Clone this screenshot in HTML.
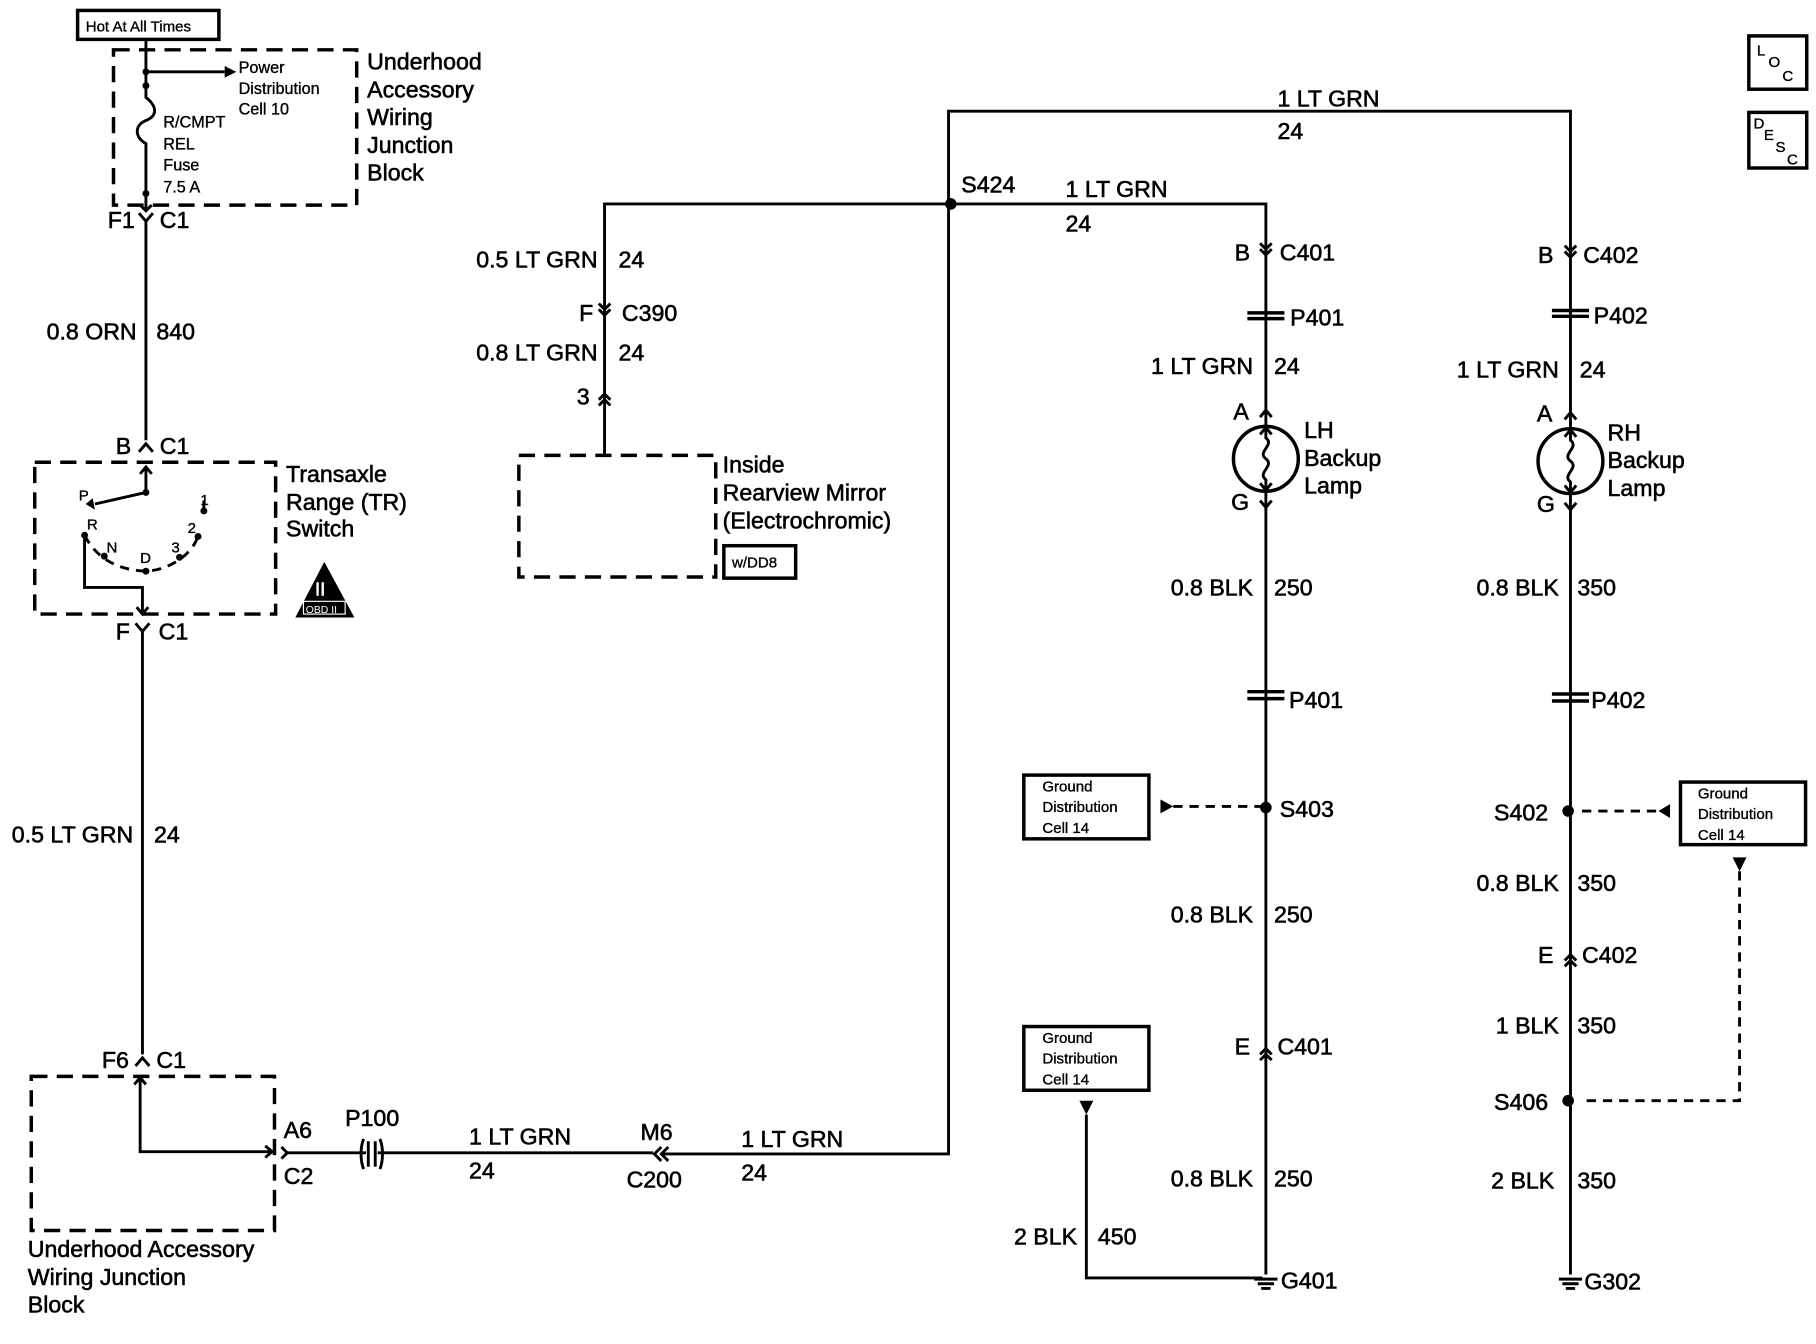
<!DOCTYPE html>
<html><head><meta charset="utf-8"><style>
html,body{margin:0;padding:0;background:#fff}
svg{display:block}
text{font-family:"Liberation Sans",Arial,sans-serif;fill:#000;stroke:#000;stroke-width:0.5px}
.l{font-size:20px}
.s{font-size:14px;stroke-width:0.3px}
.t{font-size:13px;stroke-width:0.3px}
</style></head><body>
<svg width="1816" height="1344" viewBox="0 0 1568 1160" preserveAspectRatio="none" xmlns="http://www.w3.org/2000/svg">
<rect width="1568" height="1160" fill="#fff"/>
<g fill="none" stroke="#000" stroke-width="2.5">
<rect x="67" y="9" width="122" height="25" stroke-width="3"/>
<rect x="98" y="43" width="210" height="134" stroke-width="3" stroke-dasharray="14,8"/>
<path d="M126 34 V84 C136 92 136 100 126 104 C116 108 116 118 126 124 V182"/>
<path d="M126 62 H194"/>
<path d="M121 177 L126 182 L131 177"/>
<path d="M120 184 L126 191 L132 184 M126 191 V380"/>
<path d="M120 390 L126 383 L132 390"/>
<rect x="30" y="399" width="208" height="131" stroke-width="3" stroke-dasharray="14,8"/>
<path d="M126 425 V404 M121 409 L126 403 L131 409"/>
<path d="M126 425 L82 435"/>
<path d="M176 432 V441"/>
<path d="M73 462 C85 485 105 492 126 493 C145 492 165 480 171 463" stroke-dasharray="8,6"/>
<path d="M73 462 V507 H123 V529 M118 524 L123 530 L128 524"/>
<path d="M117 538 L123 545 L129 538 M123 545 V910"/>
<path d="M117 920 L123 913 L129 920"/>
<rect x="27" y="929" width="210" height="133" stroke-width="3" stroke-dasharray="14,8"/>
<path d="M121 931 V994 H235 M229 989 L235 994 L229 999 M116 936 L121 930 L126 936"/>
<path d="M243 990 L248 995 L243 1000"/>
<path d="M248 995 H316 M326 995 H564 M572 996 H819 V96 H1356 V1100"/>
<path d="M314 983 C311 990 311 1002 314 1009 M328 983 C331 990 331 1002 328 1009 M318 985 V1007 M324 985 V1007"/>
<path d="M571 990 L565 996 L571 1002 M577 990 L571 996 L577 1002"/>
<path d="M522 392 V176 H1093 V1100"/>
<path d="M517 262 L522 267 L527 262 M517 267 L522 272 L527 267"/>
<path d="M517 345 L522 340 L527 345 M517 350 L522 345 L527 350"/>
<rect x="448" y="393" width="170" height="105" stroke-width="3" stroke-dasharray="14,8"/>
<rect x="625" y="471" width="62" height="28" stroke-width="3"/>
<path d="M1088 210 L1093 215 L1098 210 M1088 215 L1093 220 L1098 215"/>
<path d="M1077 270 H1109 M1077 275 H1109" stroke-width="3"/>
<path d="M1088 360 L1093 354 L1098 360"/>
<circle cx="1093" cy="396" r="28" fill="#fff" stroke-width="3"/>
<path d="M1093 370 V378 C1101 384 1085 390 1093 396 C1101 402 1085 408 1093 414 V422 M1088 375 L1093 369 L1098 375 M1088 417 L1093 423 L1098 417"/>
<path d="M1088 432 L1093 438 L1098 432"/>
<path d="M1077 597 H1109 M1077 603 H1109" stroke-width="3"/>
<path d="M1088 910 L1093 905 L1098 910 M1088 915 L1093 910 L1098 915"/>
<path d="M1013 696 H1090" stroke-dasharray="8,6"/>
<rect x="884" y="669" width="108" height="55" stroke-width="3"/>
<rect x="884" y="886" width="108" height="55" stroke-width="3"/>
<path d="M938 962 V1103 H1090"/>
<path d="M1083 1104 H1103 M1086 1108 H1100 M1089 1112 H1097"/>
<path d="M1351 212 L1356 217 L1361 212 M1351 217 L1356 222 L1361 217"/>
<path d="M1340 268 H1372 M1340 273 H1372" stroke-width="3"/>
<path d="M1351 362 L1356 356 L1361 362"/>
<circle cx="1356" cy="398" r="28" fill="#fff" stroke-width="3"/>
<path d="M1356 372 V380 C1364 386 1348 392 1356 398 C1364 404 1348 410 1356 416 V424 M1351 377 L1356 371 L1361 377 M1351 419 L1356 425 L1361 419"/>
<path d="M1351 434 L1356 440 L1361 434"/>
<path d="M1340 599 H1372 M1340 605 H1372" stroke-width="3"/>
<path d="M1351 829 L1356 824 L1361 829 M1351 834 L1356 829 L1361 834"/>
<path d="M1366 700 H1432" stroke-dasharray="8,6"/>
<rect x="1451" y="675" width="108" height="54" stroke-width="3"/>
<path d="M1502 752 V950 H1366" stroke-dasharray="8,6"/>
<path d="M1346 1104 H1366 M1349 1108 H1363 M1352 1112 H1360"/>
<rect x="1510" y="31" width="50" height="46" stroke-width="3"/>
<rect x="1510" y="97" width="50" height="48" stroke-width="3"/>
</g>
<g fill="#000">
<path d="M194 57 L204 62 L194 67 Z"/>
<circle cx="126" cy="62" r="3"/><circle cx="126" cy="74" r="3"/><circle cx="126" cy="167" r="3"/>
<circle cx="126" cy="425" r="3"/><path d="M80 430 L74 435 L82 440 Z"/>
<circle cx="73" cy="462" r="3"/><circle cx="90" cy="480" r="3"/><circle cx="126" cy="493" r="3"/><circle cx="155" cy="481" r="3"/><circle cx="171" cy="463" r="3"/><circle cx="176" cy="441" r="3"/>
<path d="M280 485 L255 533 L306 533 Z"/>
<circle cx="821" cy="176" r="5"/>
<circle cx="1093" cy="697" r="5"/>
<path d="M1002 690 L1013 696 L1002 702 Z"/>
<path d="M932 950 L944 950 L938 962 Z"/>
<circle cx="1354" cy="700" r="5"/>
<circle cx="1354" cy="950" r="5"/>
<path d="M1442 694 L1432 700 L1442 706 Z"/>
<path d="M1496 740 L1508 740 L1502 752 Z"/>
</g>
<text x="272" y="514" font-size="16" style="fill:#fff;stroke:#fff">II</text>
<rect x="262" y="519" width="36" height="11" fill="#000" stroke="#fff" stroke-width="1"/>
<text x="264" y="529" font-size="9" style="fill:#fff;stroke:none">OBD II</text>

<text class="t" x="74" y="27">Hot At All Times</text>
<text class="s" x="206" y="63">Power</text>
<text class="s" x="206" y="81">Distribution</text>
<text class="s" x="206" y="99">Cell 10</text>
<text class="s" x="141" y="110">R/CMPT</text>
<text class="s" x="141" y="129">REL</text>
<text class="s" x="141" y="147">Fuse</text>
<text class="s" x="141" y="166">7.5 A</text>
<text class="l" x="317" y="60">Underhood</text>
<text class="l" x="317" y="84">Accessory</text>
<text class="l" x="317" y="108">Wiring</text>
<text class="l" x="317" y="132">Junction</text>
<text class="l" x="317" y="156">Block</text>
<text class="l" x="93" y="197">F1</text><text class="l" x="138" y="197">C1</text>
<text class="l" x="118" y="293" text-anchor="end">0.8 ORN</text><text class="l" x="135" y="293">840</text>
<text class="l" x="100" y="392">B</text><text class="l" x="138" y="392">C1</text>
<text class="l" x="247" y="416">Transaxle</text>
<text class="l" x="247" y="440">Range (TR)</text>
<text class="l" x="247" y="463">Switch</text>
<text class="t" x="68" y="432">P</text><text class="t" x="173" y="436">1</text>
<text class="t" x="75" y="457">R</text><text class="t" x="92" y="477">N</text><text class="t" x="121" y="486">D</text><text class="t" x="148" y="477">3</text><text class="t" x="162" y="460">2</text>
<text class="l" x="100" y="552">F</text><text class="l" x="137" y="552">C1</text>
<text class="l" x="115" y="727" text-anchor="end">0.5 LT GRN</text><text class="l" x="133" y="727">24</text>
<text class="l" x="88" y="922">F6</text><text class="l" x="135" y="922">C1</text>
<text class="l" x="245" y="982">A6</text><text class="l" x="245" y="1022">C2</text>
<text class="l" x="24" y="1085">Underhood Accessory</text>
<text class="l" x="24" y="1109">Wiring Junction</text>
<text class="l" x="24" y="1133">Block</text>
<text class="l" x="298" y="972">P100</text>
<text class="l" x="405" y="988">1 LT GRN</text><text class="l" x="405" y="1017">24</text>
<text class="l" x="553" y="984">M6</text><text class="l" x="541" y="1025">C200</text>
<text class="l" x="640" y="990">1 LT GRN</text><text class="l" x="640" y="1019">24</text>
<text class="l" x="1103" y="92">1 LT GRN</text><text class="l" x="1103" y="120">24</text>
<text class="l" x="830" y="166">S424</text>
<text class="l" x="920" y="170">1 LT GRN</text><text class="l" x="920" y="200">24</text>
<text class="l" x="516" y="231" text-anchor="end">0.5 LT GRN</text><text class="l" x="534" y="231">24</text>
<text class="l" x="500" y="277">F</text><text class="l" x="537" y="277">C390</text>
<text class="l" x="516" y="311" text-anchor="end">0.8 LT GRN</text><text class="l" x="534" y="311">24</text>
<text class="l" x="498" y="349">3</text>
<text class="l" x="624" y="408">Inside</text>
<text class="l" x="624" y="432">Rearview Mirror</text>
<text class="l" x="624" y="456">(Electrochromic)</text>
<text class="t" x="632" y="490">w/DD8</text>
<text class="l" x="1066" y="225">B</text><text class="l" x="1105" y="225">C401</text>
<text class="l" x="1114" y="281">P401</text>
<text class="l" x="1082" y="323" text-anchor="end">1 LT GRN</text><text class="l" x="1100" y="323">24</text>
<text class="l" x="1065" y="362">A</text><text class="l" x="1063" y="440">G</text>
<text class="l" x="1126" y="378">LH</text><text class="l" x="1126" y="402">Backup</text><text class="l" x="1126" y="426">Lamp</text>
<text class="l" x="1082" y="514" text-anchor="end">0.8 BLK</text><text class="l" x="1100" y="514">250</text>
<text class="l" x="1113" y="611">P401</text>
<text class="l" x="1105" y="705">S403</text>
<text class="t" x="900" y="683">Ground</text><text class="t" x="900" y="701">Distribution</text><text class="t" x="900" y="719">Cell 14</text>
<text class="l" x="1082" y="796" text-anchor="end">0.8 BLK</text><text class="l" x="1100" y="796">250</text>
<text class="l" x="1066" y="910">E</text><text class="l" x="1103" y="910">C401</text>
<text class="t" x="900" y="900">Ground</text><text class="t" x="900" y="918">Distribution</text><text class="t" x="900" y="936">Cell 14</text>
<text class="l" x="1082" y="1024" text-anchor="end">0.8 BLK</text><text class="l" x="1100" y="1024">250</text>
<text class="l" x="930" y="1074" text-anchor="end">2 BLK</text><text class="l" x="948" y="1074">450</text>
<text class="l" x="1106" y="1112">G401</text>
<text class="l" x="1328" y="227">B</text><text class="l" x="1367" y="227">C402</text>
<text class="l" x="1376" y="279">P402</text>
<text class="l" x="1346" y="326" text-anchor="end">1 LT GRN</text><text class="l" x="1364" y="326">24</text>
<text class="l" x="1327" y="364">A</text><text class="l" x="1327" y="442">G</text>
<text class="l" x="1388" y="380">RH</text><text class="l" x="1388" y="404">Backup</text><text class="l" x="1388" y="428">Lamp</text>
<text class="l" x="1346" y="514" text-anchor="end">0.8 BLK</text><text class="l" x="1362" y="514">350</text>
<text class="l" x="1374" y="611">P402</text>
<text class="l" x="1290" y="708">S402</text>
<text class="t" x="1466" y="689">Ground</text><text class="t" x="1466" y="707">Distribution</text><text class="t" x="1466" y="725">Cell 14</text>
<text class="l" x="1346" y="769" text-anchor="end">0.8 BLK</text><text class="l" x="1362" y="769">350</text>
<text class="l" x="1328" y="831">E</text><text class="l" x="1366" y="831">C402</text>
<text class="l" x="1346" y="892" text-anchor="end">1 BLK</text><text class="l" x="1362" y="892">350</text>
<text class="l" x="1290" y="958">S406</text>
<text class="l" x="1342" y="1026" text-anchor="end">2 BLK</text><text class="l" x="1362" y="1026">350</text>
<text class="l" x="1368" y="1113">G302</text>
<text class="t" x="1517" y="48">L</text><text class="t" x="1527" y="58">O</text><text class="t" x="1539" y="70">C</text>
<text class="t" x="1514" y="111">D</text><text class="t" x="1523" y="121">E</text><text class="t" x="1533" y="131">S</text><text class="t" x="1543" y="142">C</text>
</svg>
</body></html>
